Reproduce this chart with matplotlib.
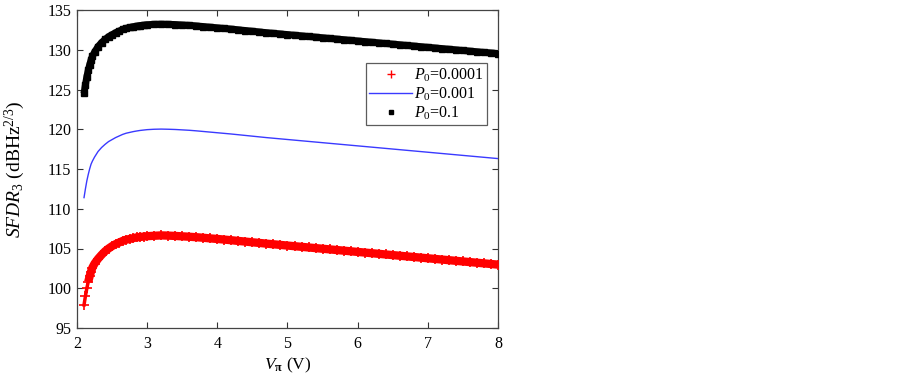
import matplotlib
matplotlib.use("Agg")
import matplotlib.pyplot as plt
from matplotlib.lines import Line2D

plt.rcParams['font.family'] = ['Liberation Serif', 'DejaVu Serif']
plt.rcParams['mathtext.fontset'] = 'custom'
plt.rcParams['mathtext.rm'] = 'Liberation Serif'
plt.rcParams['mathtext.it'] = 'Liberation Serif:italic'
plt.rcParams['mathtext.bf'] = 'Liberation Serif:bold'

# V_pi values (V)
v_pi = [2.10, 2.12, 2.14, 2.16, 2.18, 2.20, 2.22, 2.25, 2.30, 2.35, 2.40, 2.45,
        2.50, 2.55, 2.60, 2.65, 2.70, 2.75, 2.80, 2.85, 2.90, 2.95, 3.00,
        3.1, 3.2, 3.3, 3.4, 3.5, 3.6, 3.7, 3.8, 3.9, 4.0,
        4.1, 4.2, 4.3, 4.4, 4.5, 4.6, 4.7, 4.8, 4.9, 5.0,
        5.1, 5.2, 5.3, 5.4, 5.5, 5.6, 5.7, 5.8, 5.9, 6.0,
        6.1, 6.2, 6.3, 6.4, 6.5, 6.6, 6.7, 6.8, 6.9, 7.0,
        7.1, 7.2, 7.3, 7.4, 7.5, 7.6, 7.7, 7.8, 7.9, 8.0]

# P0 = 0.0001 (red +)
sfdr_p0001 = [97.9, 99.0, 100.0, 100.8, 101.5, 102.1, 102.6, 103.1, 103.7, 104.2,
              104.65, 105.0, 105.3, 105.55, 105.75, 105.95, 106.1, 106.2, 106.3,
              106.4, 106.45, 106.5, 106.55,
              106.6, 106.65, 106.62, 106.58, 106.53, 106.48, 106.42, 106.35, 106.27, 106.2,
              106.12, 106.04, 105.95, 105.87, 105.78, 105.7, 105.61, 105.53, 105.45, 105.37,
              105.29, 105.21, 105.13, 105.05, 104.97, 104.89, 104.81, 104.73, 104.65, 104.57,
              104.49, 104.41, 104.33, 104.25, 104.17, 104.09, 104.01, 103.93, 103.85, 103.77,
              103.69, 103.61, 103.53, 103.45, 103.37, 103.29, 103.21, 103.13, 103.05, 102.97]

# P0 = 0.001 (blue line)
sfdr_p001 = [111.4, 112.5, 113.5, 114.3, 115.0, 115.6, 116.0, 116.5, 117.2, 117.7,
             118.1, 118.45, 118.7, 118.95, 119.15, 119.35, 119.5, 119.6, 119.7,
             119.78, 119.85, 119.9, 119.95,
             120.0, 120.02, 120.0, 119.97, 119.92, 119.87, 119.8, 119.72, 119.64, 119.56,
             119.48, 119.4, 119.31, 119.22, 119.13, 119.04, 118.95, 118.87, 118.79, 118.71,
             118.63, 118.55, 118.47, 118.39, 118.31, 118.23, 118.15, 118.07, 117.99, 117.91,
             117.83, 117.75, 117.67, 117.59, 117.51, 117.43, 117.35, 117.27, 117.19, 117.11,
             117.03, 116.95, 116.87, 116.79, 116.71, 116.63, 116.55, 116.47, 116.39, 116.31]

# P0 = 0.1 (black squares)
sfdr_p01 = [124.5, 125.6, 126.6, 127.4, 128.1, 128.7, 129.2, 129.7, 130.4, 130.9,
            131.3, 131.65, 131.9, 132.15, 132.35, 132.55, 132.7, 132.8, 132.9,
            132.98, 133.05, 133.1, 133.15,
            133.2, 133.22, 133.2, 133.17, 133.12, 133.07, 133.0, 132.92, 132.84, 132.76,
            132.68, 132.6, 132.51, 132.42, 132.33, 132.24, 132.15, 132.07, 131.99, 131.91,
            131.83, 131.75, 131.67, 131.59, 131.51, 131.43, 131.35, 131.27, 131.19, 131.11,
            131.03, 130.95, 130.87, 130.79, 130.71, 130.63, 130.55, 130.47, 130.39, 130.31,
            130.23, 130.15, 130.07, 129.99, 129.91, 129.83, 129.75, 129.67, 129.6, 129.52]

labels = [r'$P_0$=0.0001', r'$P_0$=0.001', r'$P_0$=0.1']
x_ticks = [2, 3, 4, 5, 6, 7, 8]
y_ticks = [95, 100, 105, 110, 115, 120, 125, 130, 135]

fig = plt.figure(figsize=(9.03, 3.79), dpi=100)
ax = fig.add_axes([77/903, 1-328/379, (498-77)/903, (328-10)/379])

ax.plot(v_pi, sfdr_p0001, color='red', lw=2.5, zorder=2)
ax.plot(v_pi[3:], sfdr_p0001[3:], color='red', lw=6.0, solid_capstyle='butt', zorder=2)
ax.plot(v_pi, sfdr_p0001, ls='none', marker='+', ms=6.5, mew=1.2, color='red', zorder=3)
ax.plot(v_pi, sfdr_p001, color='#3a3aff', lw=1.0, zorder=3)
ax.plot(v_pi, sfdr_p01, color='black', lw=5.0, solid_capstyle='butt', zorder=2)
ax.plot(v_pi, sfdr_p01, ls='none', marker='s', ms=4, color='black', zorder=3)

ax.set_xlim(2, 8)
ax.set_ylim(95, 135)
ax.set_xticks(x_ticks)
ax.set_yticks(y_ticks)
ax.tick_params(direction='in', top=True, right=True, length=4, width=0.8,
               labelsize=11.5, color='#333333')
ax.tick_params(axis='x', pad=6)
ax.tick_params(axis='y', pad=4)
for s in ax.spines.values():
    s.set_color('#444444')
    s.set_linewidth(0.9)

ax.set_xlabel(r'$V_{\mathbf{\pi}}$ (V)', fontsize=12.5)
ax.xaxis.set_label_coords(0.5, -(365-328)/(328-10), transform=ax.transAxes)
ax.set_ylabel(r'$SFDR_3$ (dBHz$^{2/3}$)', fontsize=14)
ax.yaxis.set_label_coords(-(77-15)/(498-77), 0.5, transform=ax.transAxes)
ax.yaxis.label.set_va('center')
ax.xaxis.label.set_va('center')

handles = [Line2D([], [], ls='none', marker='+', ms=6, mew=1.0, color='red'),
           Line2D([], [], color='#3a3aff', lw=1.0),
           Line2D([], [], ls='none', marker='s', ms=3, color='black')]
leg = ax.legend(handles, labels, loc='upper right',
                bbox_to_anchor=((487-77)/(498-77), 1-(63-10)/(328-10)),
                fontsize=11.5, frameon=True, fancybox=False, edgecolor='#333333',
                borderpad=0.2, labelspacing=0.1, handlelength=2.7, handletextpad=0.1,
                borderaxespad=0)
leg.get_frame().set_linewidth(0.9)

fig.savefig('out.png', dpi=100)
